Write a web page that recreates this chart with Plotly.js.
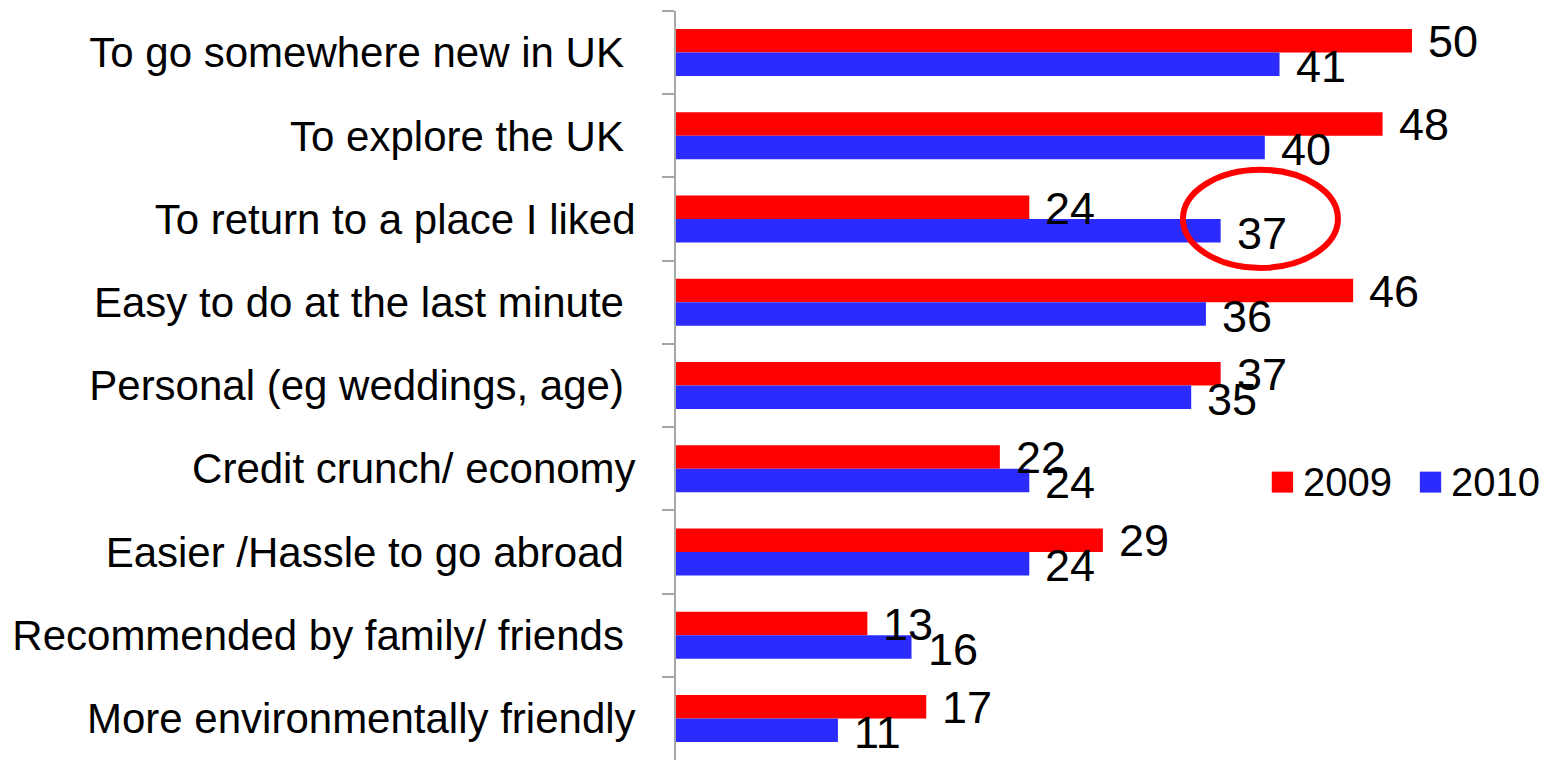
<!DOCTYPE html>
<html>
<head>
<meta charset="utf-8">
<script src="https://cdn.plot.ly/plotly-3.0.1.min.js"></script>
<style>
html,body{margin:0;padding:0;background:#fff;}
#chart{width:1547px;height:764px;}
</style>
</head>
<body>
<div id="chart"></div>
<script>
const categories = [
  "To go somewhere new in UK ",
  "To explore the UK ",
  "To return to a place I liked",
  "Easy to do at the last minute ",
  "Personal (eg weddings, age) ",
  "Credit crunch/ economy",
  "Easier /Hassle to go abroad ",
  "Recommended by family/ friends ",
  "More environmentally friendly"
];
const seriesNames = ["2009", "2010"];
const values2009 = [50, 48, 24, 46, 37, 22, 29, 13, 17];
const values2010 = [41, 40, 37, 36, 35, 24, 24, 16, 11];
const colors = ["#ff0000", "#2b2bff"];

const FONT = "Liberation Sans, Arial, sans-serif";

const traces = [values2009, values2010].map((vals, i) => ({
  type: "bar",
  orientation: "h",
  name: seriesNames[i],
  x: vals,
  y: categories,
  marker: {color: colors[i]},
  hoverinfo: "x+name",
  showlegend: false
}));

const annotations = [];
[values2009, values2010].forEach((vals, i) => {
  vals.forEach((v, k) => {
    annotations.push({
      x: v, y: categories[k], xref: "x", yref: "y",
      text: String(v), showarrow: false,
      xanchor: "left", yanchor: "middle",
      xshift: 14, yshift: i === 0 ? 11 : -14,
      font: {family: FONT, size: 45, color: "#000"}
    });
  });
});

// legend (drawn manually)
const legendX = [0.684, 0.854];
const shapes = [];
seriesNames.forEach((n, i) => {
  shapes.push({
    type: "rect", xref: "paper", yref: "paper",
    x0: legendX[i], x1: legendX[i] + 0.0245,
    y0: 0.357, y1: 0.385,
    fillcolor: colors[i], line: {width: 0}
  });
  annotations.push({
    xref: "paper", yref: "paper", x: legendX[i] + 0.034, y: 0.371,
    text: n, showarrow: false, xanchor: "left", yanchor: "middle",
    font: {family: FONT, size: 40, color: "#000"}
  });
});
// highlight ellipse
shapes.push({
  type: "circle", xref: "paper", yref: "paper",
  x0: 0.582, x1: 0.760, y0: 0.657, y1: 0.788,
  line: {color: "#ff0000", width: 6}
});

const layout = {
  width: 1547, height: 764,
  margin: {l: 676, r: 0, t: 11, b: 4, pad: 0},
  paper_bgcolor: "#fff", plot_bgcolor: "#fff",
  barmode: "group",
  bargap: 0.435,
  bargroupgap: 0,
  showlegend: false,
  xaxis: {
    range: [0, 59.17],
    visible: false,
    showgrid: false, zeroline: false
  },
  yaxis: {
    type: "category",
    autorange: "reversed",
    showline: true, linecolor: "#a6a6a6", linewidth: 2,
    ticks: "outside", tickson: "boundaries", ticklen: 12,
    tickcolor: "#a6a6a6", tickwidth: 2,
    ticklabelstandoff: 30,
    showgrid: false, zeroline: false,
    tickfont: {family: FONT, size: 42, color: "#000"}
  },
  annotations: annotations,
  shapes: shapes,
  font: {family: FONT}
};

Plotly.newPlot("chart", traces, layout, {displayModeBar: false, staticPlot: true});
</script>
</body>
</html>
